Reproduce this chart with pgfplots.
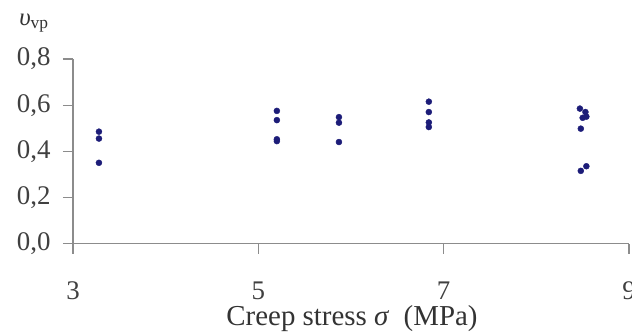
\documentclass[border=0pt]{standalone}
\usepackage{fontspec}
\setmainfont{Liberation Serif}
\usepackage{pgfplots}
\pgfplotsset{compat=1.18}

\definecolor{dotblue}{HTML}{1C1C78}
\definecolor{axisgrey}{HTML}{8C8C8C}

\begin{document}
\begin{tikzpicture}
\useasboundingbox (-73bp,-90.5bp) rectangle (559bp,243.5bp);
\begin{axis}[
  at={(0,0)}, anchor=south west,
  scale only axis,
  width=556bp, height=184.5bp,
  xmin=3, xmax=9, ymin=0, ymax=0.8,
  xtick={3,5,7,9},
  ytick={0,0.2,0.4,0.6,0.8},
  axis lines=left,
  axis line style={-, axisgrey, line width=1.2bp},
  tick style={axisgrey, line width=1.2bp},
  tick align=outside,
  major tick length=10bp,
  clip=false,
  /pgf/number format/assume math mode=true,
  yticklabel style={/pgf/number format/use comma, /pgf/number format/fixed,
    /pgf/number format/fixed zerofill, /pgf/number format/precision=1, xshift=-9bp},
  ticklabel style={font=\fontsize{27}{31}\selectfont, text=black!75},
  xticklabel style={yshift=-25bp},
  xlabel={Creep stress \textit{σ}\ \ (MPa)},
  xlabel style={at={(rel axis cs:0.5,0)}, anchor=center, yshift=-75bp, xshift=1bp,
    font=\fontsize{29}{33}\selectfont, text=black!80},
]
\addplot[only marks, mark=*, mark size=3bp, color=dotblue] coordinates {
  (3.28,0.485) (3.28,0.455) (3.28,0.350)
  (5.20,0.575) (5.20,0.535) (5.20,0.452) (5.20,0.444)
  (5.87,0.548) (5.87,0.524) (5.87,0.440)
  (6.84,0.615) (6.84,0.570) (6.84,0.525) (6.84,0.505)
  (8.47,0.585) (8.53,0.570) (8.54,0.550) (8.50,0.545) (8.48,0.498)
  (8.54,0.335) (8.48,0.315)
};
\node[font=\fontsize{25}{29}\selectfont, text=black!80] at ([xshift=-39bp,yshift=36bp]rel axis cs:0,1)
  {\textit{υ}\textsubscript{vp}};
\end{axis}
\end{tikzpicture}
\end{document}
